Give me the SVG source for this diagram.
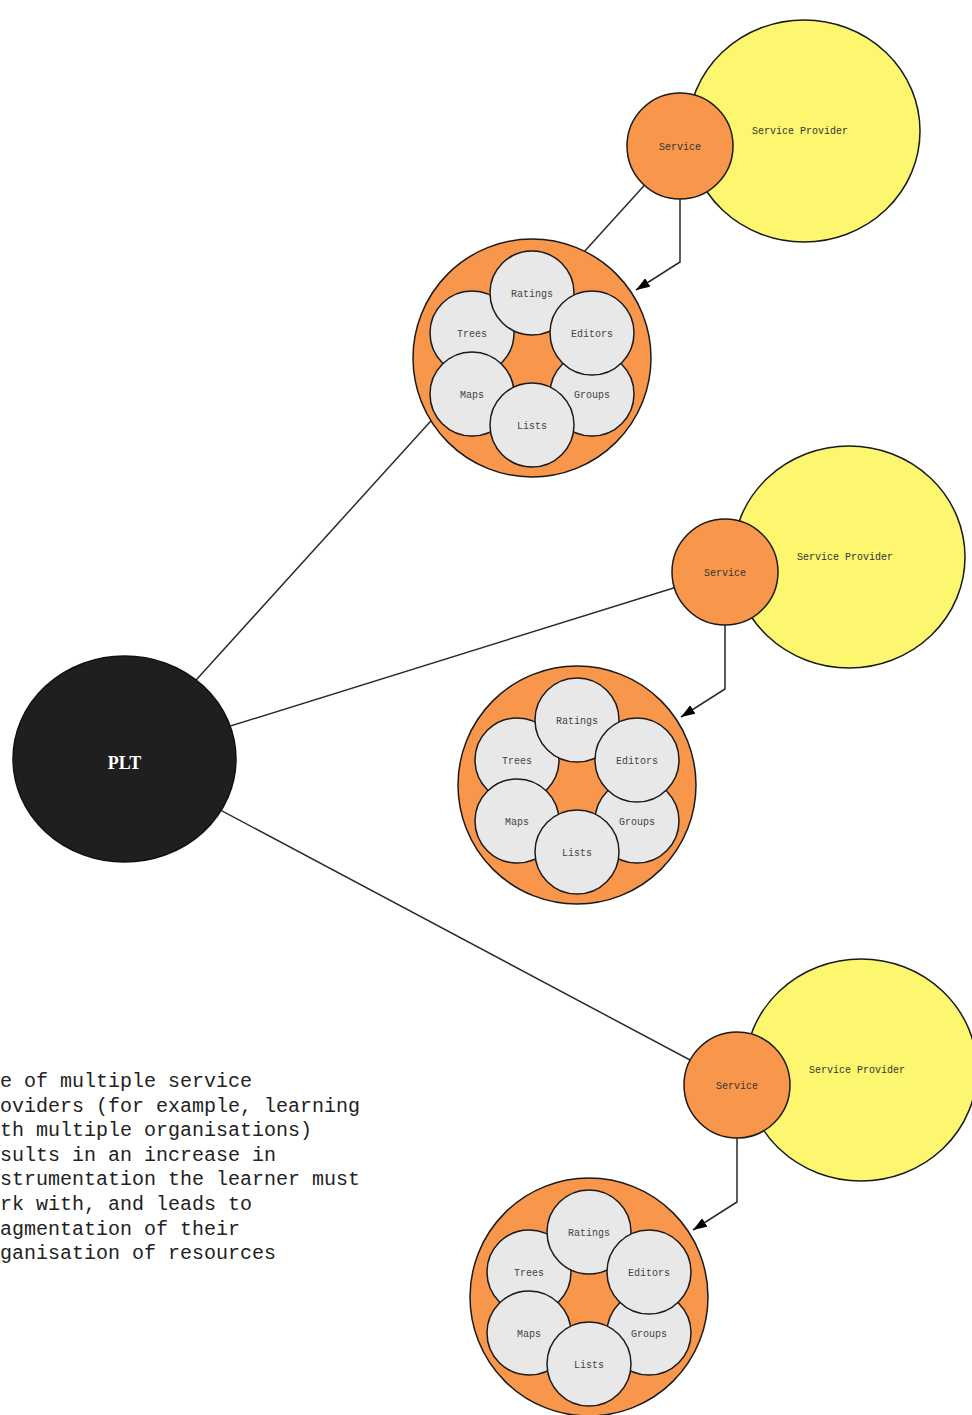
<svg xmlns="http://www.w3.org/2000/svg" width="972" height="1415" viewBox="0 0 972 1415">
  <style>
    .provider { fill: #fdf66f; stroke: #1a1a1a; stroke-width: 1.5; }
    .service { fill: #f8964b; stroke: #1a1a1a; stroke-width: 1.5; }
    .outer { fill: #f8964b; stroke: #1a1a1a; stroke-width: 1.5; }
    .tool { fill: #e8e8e8; stroke: #1a1a1a; stroke-width: 1.5; }
    .plt { fill: #1f1f1f; stroke: #111; stroke-width: 1.5; }
    .lbl { font-family: "Liberation Mono", "Courier New", monospace; font-size: 10px; fill: #444; text-anchor: middle; }
    .lbld { font-family: "Liberation Mono", "Courier New", monospace; font-size: 10px; fill: #333; text-anchor: middle; }
    .conn { stroke: #2a2a2a; stroke-width: 1.5; fill: none; }
    .note { font-family: "Liberation Mono", "Courier New", monospace; font-size: 20px; fill: #222; }
  </style>
  <defs>
    <marker id="arr" viewBox="0 0 14 10" refX="14" refY="5" markerWidth="14" markerHeight="10" markerUnits="userSpaceOnUse" orient="auto">
      <path d="M0,0 L14,5 L0,10 Z" fill="#000"/>
    </marker>
    <g id="toolset">
      <circle class="outer" cx="0" cy="0" r="119"/>
      <circle class="tool" cx="60" cy="36" r="42"/>
      <circle class="tool" cx="-60" cy="-25" r="42"/>
      <circle class="tool" cx="0" cy="-65" r="42"/>
      <circle class="tool" cx="60" cy="-25" r="42"/>
      <circle class="tool" cx="-60" cy="36" r="42"/>
      <circle class="tool" cx="0" cy="67" r="42"/>
      <text class="lbl" x="0" y="-61">Ratings</text>
      <text class="lbl" x="-60" y="-21">Trees</text>
      <text class="lbl" x="60" y="-21">Editors</text>
      <text class="lbl" x="-60" y="40">Maps</text>
      <text class="lbl" x="60" y="40">Groups</text>
      <text class="lbl" x="0" y="71">Lists</text>
    </g>
  </defs>

  <g id="connectors">
    <line class="conn" x1="124.5" y1="759" x2="680" y2="146"/>
    <line class="conn" x1="124.5" y1="759" x2="725" y2="572"/>
    <line class="conn" x1="124.5" y1="759" x2="737" y2="1085"/>
    <path class="conn" d="M680,199 V262 L636,290" marker-end="url(#arr)"/>
    <path class="conn" d="M725,625 V689 L681,717" marker-end="url(#arr)"/>
    <path class="conn" d="M737,1138 V1202 L693,1230" marker-end="url(#arr)"/>
  </g>

  <g id="plt">
    <ellipse class="plt" cx="124.5" cy="759" rx="111.5" ry="103"/>
    <text x="124.5" y="769" font-family="'Liberation Serif', 'Times New Roman', serif" font-size="18" font-weight="bold" fill="#fff" text-anchor="middle">PLT</text>
  </g>

  <g id="provider1">
    <ellipse class="provider" cx="804" cy="131" rx="116" ry="111"/>
    <text class="lbld" x="800" y="134">Service Provider</text>
  </g>
  <g id="service1">
    <circle class="service" cx="680" cy="146" r="53"/>
    <text class="lbld" x="680" y="150">Service</text>
  </g>
  <g id="tools1">
    <use href="#toolset" x="532" y="358"/>
  </g>

  <g id="provider2">
    <ellipse class="provider" cx="849" cy="557" rx="116" ry="111"/>
    <text class="lbld" x="845" y="560">Service Provider</text>
  </g>
  <g id="service2">
    <circle class="service" cx="725" cy="572" r="53"/>
    <text class="lbld" x="725" y="576">Service</text>
  </g>
  <g id="tools2">
    <use href="#toolset" x="577" y="785"/>
  </g>

  <g id="provider3">
    <ellipse class="provider" cx="861" cy="1070" rx="116" ry="111"/>
    <text class="lbld" x="857" y="1073">Service Provider</text>
  </g>
  <g id="service3">
    <circle class="service" cx="737" cy="1085" r="53"/>
    <text class="lbld" x="737" y="1089">Service</text>
  </g>
  <g id="tools3">
    <use href="#toolset" x="589" y="1297"/>
  </g>

  <g id="note">
    <text class="note" x="0" y="1087">e of multiple service</text>
    <text class="note" x="0" y="1111.6">oviders (for example, learning</text>
    <text class="note" x="0" y="1136.2">th multiple organisations)</text>
    <text class="note" x="0" y="1160.8">sults in an increase in</text>
    <text class="note" x="0" y="1185.4">strumentation the learner must</text>
    <text class="note" x="0" y="1210">rk with, and leads to</text>
    <text class="note" x="0" y="1234.6">agmentation of their</text>
    <text class="note" x="0" y="1259.2">ganisation of resources</text>
  </g>
</svg>
